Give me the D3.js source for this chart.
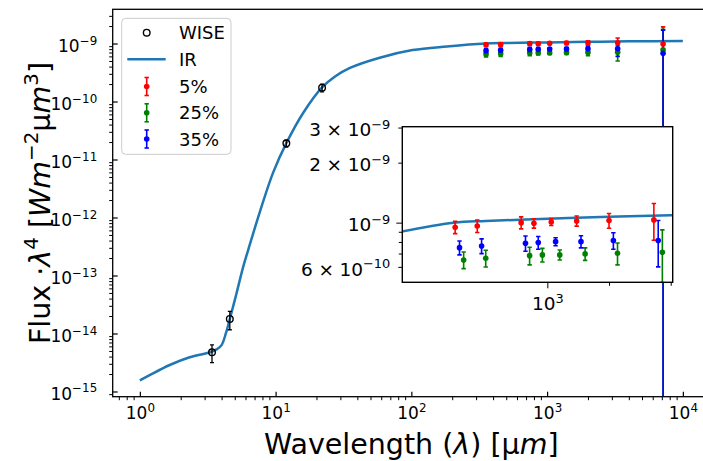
<!DOCTYPE html>
<html>
<head>
<meta charset="utf-8">
<script src="https://cdn.jsdelivr.net/npm/d3@7"></script>
<style>
body { margin: 0; background: #fff; }
svg { display: block; font-family: "DejaVu Sans", sans-serif; }
</style>
</head>
<body>
<div id="chart"></div>
<script>
// model curve (IR)
var irWave = [1, 1.2, 1.66, 2.33, 3.34, 3.7, 4.0, 4.3, 4.6, 5.15, 5.77, 6.28, 7.7, 9.6, 12.05, 16, 22, 27.4, 35.3, 58.5, 102, 183, 350, 500, 1000, 2000, 4000, 10000];
var irFlux = [1.55e-15, 1.95e-15, 2.86e-15, 3.89e-15, 4.79e-15, 5.37e-15, 6.3e-15, 1.0e-14, 1.78e-14, 4.9e-14, 1.41e-13, 2.75e-13, 1.3e-12, 6.0e-12, 1.95e-11, 6.4e-11, 1.75e-10, 2.7e-10, 3.8e-10, 5.7e-10, 7.7e-10, 8.9e-10, 1.0e-9, 1.02e-9, 1.045e-9, 1.07e-9, 1.09e-9, 1.10e-9];

// WISE photometry
var wiseWave = [3.4, 4.6, 12, 22];
var wiseFlux = [4.74e-15, 1.78e-14, 1.90e-11, 1.73e-10];
var wiseErr = [1.6e-15, 6.2e-15, 2.6e-12, 2.6e-11];

// sub-mm / mm points
var smmWave = [355, 455, 745, 860, 1045, 1390, 2000, 3310, 7150];
var flux5 = [9.48e-10, 9.62e-10, 1.000e-9, 9.93e-10, 1.008e-9, 1.020e-9, 1.024e-9, 1.032e-9, 9.8e-10];
var err5 = [6.7e-11, 6.9e-11, 6.9e-11, 5.4e-11, 4.1e-11, 5.9e-11, 8.7e-11, 2.16e-10, 9.6e-10];
var flux25 = [6.50e-10, 6.63e-10, 6.83e-10, 6.89e-10, 6.89e-10, 6.97e-10, 7.02e-10, 7.10e-10, 7.8e-10];
var err25 = [6.2e-11, 6.4e-11, 6.9e-11, 5.4e-11, 4.0e-11, 5.0e-11, 8.8e-11, 2.1e-10, 9.7e-10];
var flux35 = [7.49e-10, 7.64e-10, 7.88e-10, 7.94e-10, 8.03e-10, 8.03e-10, 8.13e-10, 8.13e-10, 6.8e-10];
var err35 = [6.0e-11, 6.5e-11, 6.9e-11, 5.8e-11, 3.7e-11, 5.6e-11, 7.7e-11, 2.13e-10, 1.02e-9];

var seriesNames = ["5%", "25%", "35%"];
var seriesColors = ["#ff0000", "#008000", "#0000ff"];
var insetShift = [1, 1.10, 1.05]; // inset x offset factor per series

// ticks
var xMajor = [1, 10, 100, 1000, 10000];
var xMajorExp = ["0", "1", "2", "3", "4"];
var yMajor = [1e-15, 1e-14, 1e-13, 1e-12, 1e-11, 1e-10, 1e-9];
var yMajorExp = ["\u221215", "\u221214", "\u221213", "\u221212", "\u221211", "\u221210", "\u22129"];
var insetXMajor = [1000];
var insetXMinor = [2000, 4000];
var insetYTicks = [6e-10, 1e-9, 2e-9, 3e-9];
var insetYMant = ["6", "", "2", "3"];
var insetYExp = ["\u221210", "\u22129", "\u22129", "\u22129"];
var insetYMinor = [7e-10, 8e-10, 9e-10];

var width = 703, height = 461;
var M = {left: 112.7, right: 710, top: 9.3, bottom: 396.7};
var IN = {left: 402.3, right: 672.7, top: 126.7, bottom: 282.3};

var svg = d3.select('#chart').append('svg')
    .attr('width', width)
    .attr('height', height);

var x = d3.scaleLog().domain([Math.pow(10, -0.2), Math.pow(10, 4.2)]).range([M.left, M.right]);
var y = d3.scaleLog().domain([Math.pow(10, -15.09), Math.pow(10, -8.41)]).range([M.bottom, M.top]);
var xi = d3.scaleLog().domain([196, 4090]).range([IN.left, IN.right]);
var yi = d3.scaleLog().domain([5.02e-10, 3.03e-9]).range([IN.bottom, IN.top]);

var defs = svg.append('defs');
defs.append('clipPath').attr('id', 'clipMain').append('rect')
    .attr('x', M.left).attr('y', M.top).attr('width', M.right - M.left).attr('height', M.bottom - M.top);
defs.append('clipPath').attr('id', 'clipInset').append('rect')
    .attr('x', IN.left).attr('y', IN.top).attr('width', IN.right - IN.left).attr('height', IN.bottom - IN.top);

var fluxes = [flux5, flux25, flux35];
var errs = [err5, err25, err35];
var irData = d3.zip(irWave, irFlux);

// "10^exp", optionally "m × 10^exp"
function supText(t, mant, sup, fs) {
    t.text(null);
    if (mant) {
        t.append('tspan').text(mant);
        t.append('tspan').attr('dx', 0.3 * fs).text('\u00d7');
        t.append('tspan').attr('dx', 0.3 * fs).text('10');
    } else {
        t.append('tspan').text('10');
    }
    t.append('tspan').attr('dy', -0.42 * fs).style('font-size', (fs * 0.7) + 'px').text(sup);
}

// error bars: line + caps
function errBars(g, xs, ys, wave, flux, err, color, shift, lw, cap) {
    var bottomPx = ys.range()[0] + 40;
    var idx = d3.range(wave.length);
    g.selectAll(null).data(idx).enter().append('line')
        .attr('x1', function(i) { return xs(wave[i] * shift); })
        .attr('x2', function(i) { return xs(wave[i] * shift); })
        .attr('y1', function(i) { var lo = flux[i] - err[i]; return lo > 0 ? ys(lo) : bottomPx; })
        .attr('y2', function(i) { return ys(flux[i] + err[i]); })
        .attr('stroke', color).attr('stroke-width', lw);
    g.selectAll(null).data(idx).enter().append('line')
        .attr('x1', function(i) { return xs(wave[i] * shift) - cap; })
        .attr('x2', function(i) { return xs(wave[i] * shift) + cap; })
        .attr('y1', function(i) { return ys(flux[i] + err[i]); })
        .attr('y2', function(i) { return ys(flux[i] + err[i]); })
        .attr('stroke', color).attr('stroke-width', lw);
    g.selectAll(null).data(idx.filter(function(i) { return flux[i] - err[i] > 0; })).enter().append('line')
        .attr('x1', function(i) { return xs(wave[i] * shift) - cap; })
        .attr('x2', function(i) { return xs(wave[i] * shift) + cap; })
        .attr('y1', function(i) { return ys(flux[i] - err[i]); })
        .attr('y2', function(i) { return ys(flux[i] - err[i]); })
        .attr('stroke', color).attr('stroke-width', lw);
}

function dots(g, xs, ys, wave, flux, color, shift, r) {
    g.selectAll(null).data(d3.range(wave.length)).enter().append('circle')
        .attr('cx', function(i) { return xs(wave[i] * shift); })
        .attr('cy', function(i) { return ys(flux[i]); })
        .attr('r', r)
        .attr('fill', color);
}

// ---------- main plot ----------
var plot = svg.append('g').attr('clip-path', 'url(#clipMain)');

var line = d3.line().x(function(d) { return x(d[0]); }).y(function(d) { return y(d[1]); }).curve(d3.curveCatmullRom.alpha(0.5));
plot.append('path').datum(irData)
    .attr('d', line)
    .attr('fill', 'none')
    .attr('stroke', '#1f77b4')
    .attr('stroke-width', 2.5);

errBars(plot, x, y, wiseWave, wiseFlux, wiseErr, 'black', 1, 1.3, 2);
for (var s = 0; s < 3; s++) {
    errBars(plot, x, y, smmWave, fluxes[s], errs[s], seriesColors[s], 1, 1.6, 2.2);
}
plot.selectAll('circle.wise').data(d3.range(wiseWave.length)).enter().append('circle')
    .attr('cx', function(i) { return x(wiseWave[i]); })
    .attr('cy', function(i) { return y(wiseFlux[i]); })
    .attr('r', 3.3)
    .attr('fill', 'none')
    .attr('stroke', 'black')
    .attr('stroke-width', 1.4);
for (var s = 0; s < 3; s++) {
    dots(plot, x, y, smmWave, fluxes[s], seriesColors[s], 1, 2.8);
}

// minor ticks
var xMinor = [];
var yMinor = [];
for (var e = -1; e <= 4; e++) for (var k = 2; k <= 9; k++) {
    var v = k * Math.pow(10, e);
    if (v > x.domain()[0] && v < x.domain()[1]) xMinor.push(v);
}
for (var e = -16; e <= -9; e++) for (var k = 2; k <= 9; k++) {
    var v = k * Math.pow(10, e);
    if (v > y.domain()[0] && v < y.domain()[1]) yMinor.push(v);
}

var fsTick = 17;
var gx = svg.append('g').attr('transform', 'translate(0,' + M.bottom + ')')
    .call(d3.axisBottom(x).tickValues(xMajor).tickSize(-5).tickPadding(10).tickFormat(''))
    .attr('font-family', '"DejaVu Sans", sans-serif').attr('font-size', fsTick);
gx.select('.domain').remove();
gx.selectAll('.tick line').attr('stroke-width', 1.2);
gx.selectAll('.tick text').each(function(d, i) { supText(d3.select(this), '', xMajorExp[i], fsTick); });

var gxm = svg.append('g').attr('transform', 'translate(0,' + M.bottom + ')')
    .call(d3.axisBottom(x).tickValues(xMinor).tickSize(3.5).tickFormat(''));
gxm.select('.domain').remove();
gxm.selectAll('.tick line').attr('stroke-width', 1);

var gy = svg.append('g').attr('transform', 'translate(' + M.left + ',0)')
    .call(d3.axisLeft(y).tickValues(yMajor).tickSize(-5).tickPadding(15.5).tickFormat(''))
    .attr('font-family', '"DejaVu Sans", sans-serif').attr('font-size', fsTick);
gy.select('.domain').remove();
gy.selectAll('.tick line').attr('stroke-width', 1.2);
gy.selectAll('.tick text').attr('dy', '0.45em')
    .each(function(d, i) { supText(d3.select(this), '', yMajorExp[i], fsTick); });

var gym = svg.append('g').attr('transform', 'translate(' + M.left + ',0)')
    .call(d3.axisLeft(y).tickValues(yMinor).tickSize(3.5).tickFormat(''));
gym.select('.domain').remove();
gym.selectAll('.tick line').attr('stroke-width', 1);

svg.append('rect')
    .attr('x', M.left).attr('y', M.top)
    .attr('width', M.right - M.left).attr('height', M.bottom - M.top)
    .attr('fill', 'none').attr('stroke', 'black').attr('stroke-width', 1.3);

// axis titles
var fsLab = 28.5;
var xt = svg.append('text')
    .attr('x', (M.left + M.right) / 2).attr('y', 454)
    .attr('text-anchor', 'middle')
    .style('font-size', fsLab + 'px');
xt.append('tspan').text('Wavelength (');
xt.append('tspan').style('font-style', 'italic').text('\u03bb');
xt.append('tspan').text(') [\u03bc');
xt.append('tspan').style('font-style', 'italic').text('m');
xt.append('tspan').text(']');

var yt = svg.append('text')
    .attr('transform', 'translate(50,' + ((M.top + M.bottom) / 2) + ') rotate(-90)')
    .attr('text-anchor', 'middle')
    .style('font-size', fsLab + 'px');
yt.append('tspan').text('Flux \u00b7');
yt.append('tspan').style('font-style', 'italic').text('\u03bb');
yt.append('tspan').attr('dy', -0.42 * fsLab).style('font-size', (fsLab * 0.7) + 'px').text('4');
yt.append('tspan').attr('dy', 0.42 * fsLab).text(' [');
yt.append('tspan').style('font-style', 'italic').text('Wm');
yt.append('tspan').attr('dy', -0.42 * fsLab).style('font-size', (fsLab * 0.7) + 'px').text('\u22122');
yt.append('tspan').attr('dy', 0.42 * fsLab).text('\u03bc');
yt.append('tspan').style('font-style', 'italic').text('m');
yt.append('tspan').attr('dy', -0.42 * fsLab).style('font-size', (fsLab * 0.7) + 'px').text('3');
yt.append('tspan').attr('dy', 0.42 * fsLab).text(']');

// ---------- inset ----------
svg.append('rect')
    .attr('x', IN.left).attr('y', IN.top)
    .attr('width', IN.right - IN.left).attr('height', IN.bottom - IN.top)
    .attr('fill', 'white');

var ins = svg.append('g').attr('clip-path', 'url(#clipInset)');
var lineIn = d3.line().x(function(d) { return xi(d[0]); }).y(function(d) { return yi(d[1]); }).curve(d3.curveCatmullRom.alpha(0.5));
ins.append('path').datum(irData)
    .attr('d', lineIn)
    .attr('fill', 'none')
    .attr('stroke', '#1f77b4')
    .attr('stroke-width', 2.5);
for (var s = 0; s < 3; s++) {
    errBars(ins, xi, yi, smmWave, fluxes[s], errs[s], seriesColors[s], insetShift[s], 1.6, 2.2);
}
for (var s = 0; s < 3; s++) {
    dots(ins, xi, yi, smmWave, fluxes[s], seriesColors[s], insetShift[s], 2.8);
}

var fsIn = 18.5;
var gix = svg.append('g').attr('transform', 'translate(0,' + IN.bottom + ')')
    .call(d3.axisBottom(xi).tickValues(insetXMajor).tickSize(6).tickPadding(9).tickFormat(''))
    .attr('font-family', '"DejaVu Sans", sans-serif').attr('font-size', fsIn);
gix.select('.domain').remove();
gix.selectAll('.tick text').each(function() { supText(d3.select(this), '', '3', fsIn); });
var gixm = svg.append('g').attr('transform', 'translate(0,' + IN.bottom + ')')
    .call(d3.axisBottom(xi).tickValues(insetXMinor).tickSize(3.5).tickFormat(''));
gixm.select('.domain').remove();

var giy = svg.append('g').attr('transform', 'translate(' + IN.left + ',0)')
    .call(d3.axisLeft(yi).tickValues(insetYTicks).tickSize(4).tickPadding(8).tickFormat(''))
    .attr('font-family', '"DejaVu Sans", sans-serif').attr('font-size', fsIn);
giy.select('.domain').remove();
giy.selectAll('.tick line').attr('x2', function(d) { return d === 1e-9 ? -6 : -4; });
giy.selectAll('.tick text').attr('dy', '0.45em')
    .each(function(d, i) { supText(d3.select(this), insetYMant[i], insetYExp[i], fsIn); });
var giym = svg.append('g').attr('transform', 'translate(' + IN.left + ',0)')
    .call(d3.axisLeft(yi).tickValues(insetYMinor).tickSize(3.5).tickFormat(''));
giym.select('.domain').remove();

svg.append('rect')
    .attr('x', IN.left).attr('y', IN.top)
    .attr('width', IN.right - IN.left).attr('height', IN.bottom - IN.top)
    .attr('fill', 'none').attr('stroke', 'black').attr('stroke-width', 1.4);

// ---------- legend ----------
var leg = svg.append('g');
leg.append('rect')
    .attr('x', 121.7).attr('y', 18.3).attr('width', 109.3).attr('height', 136)
    .attr('rx', 4)
    .attr('fill', 'white').attr('fill-opacity', 0.8)
    .attr('stroke', '#cccccc').attr('stroke-width', 1);

var legY = [32.7, 59.3, 86.5, 112.8, 139];
var legLabels = ['WISE', 'IR'].concat(seriesNames);
var hx = 146.7;

leg.append('circle').attr('cx', hx).attr('cy', legY[0]).attr('r', 3.3)
    .attr('fill', 'none').attr('stroke', 'black').attr('stroke-width', 1.4);
leg.append('line').attr('x1', 127.3).attr('x2', 165.7).attr('y1', legY[1]).attr('y2', legY[1])
    .attr('stroke', '#1f77b4').attr('stroke-width', 2.5);
seriesColors.forEach(function(c, i) {
    var yy = legY[i + 2];
    leg.append('line').attr('x1', hx).attr('x2', hx).attr('y1', yy - 9).attr('y2', yy + 9)
        .attr('stroke', c).attr('stroke-width', 1.6);
    [yy - 9, yy + 9].forEach(function(cy) {
        leg.append('line').attr('x1', hx - 2.2).attr('x2', hx + 2.2).attr('y1', cy).attr('y2', cy)
            .attr('stroke', c).attr('stroke-width', 1.6);
    });
    leg.append('circle').attr('cx', hx).attr('cy', yy).attr('r', 2.8).attr('fill', c);
});

leg.selectAll('text').data(legLabels).enter().append('text')
    .attr('x', 179)
    .attr('y', function(d, i) { return legY[i] + 6.6; })
    .style('font-size', '18px')
    .text(function(d) { return d; });
</script>
</body>
</html>
